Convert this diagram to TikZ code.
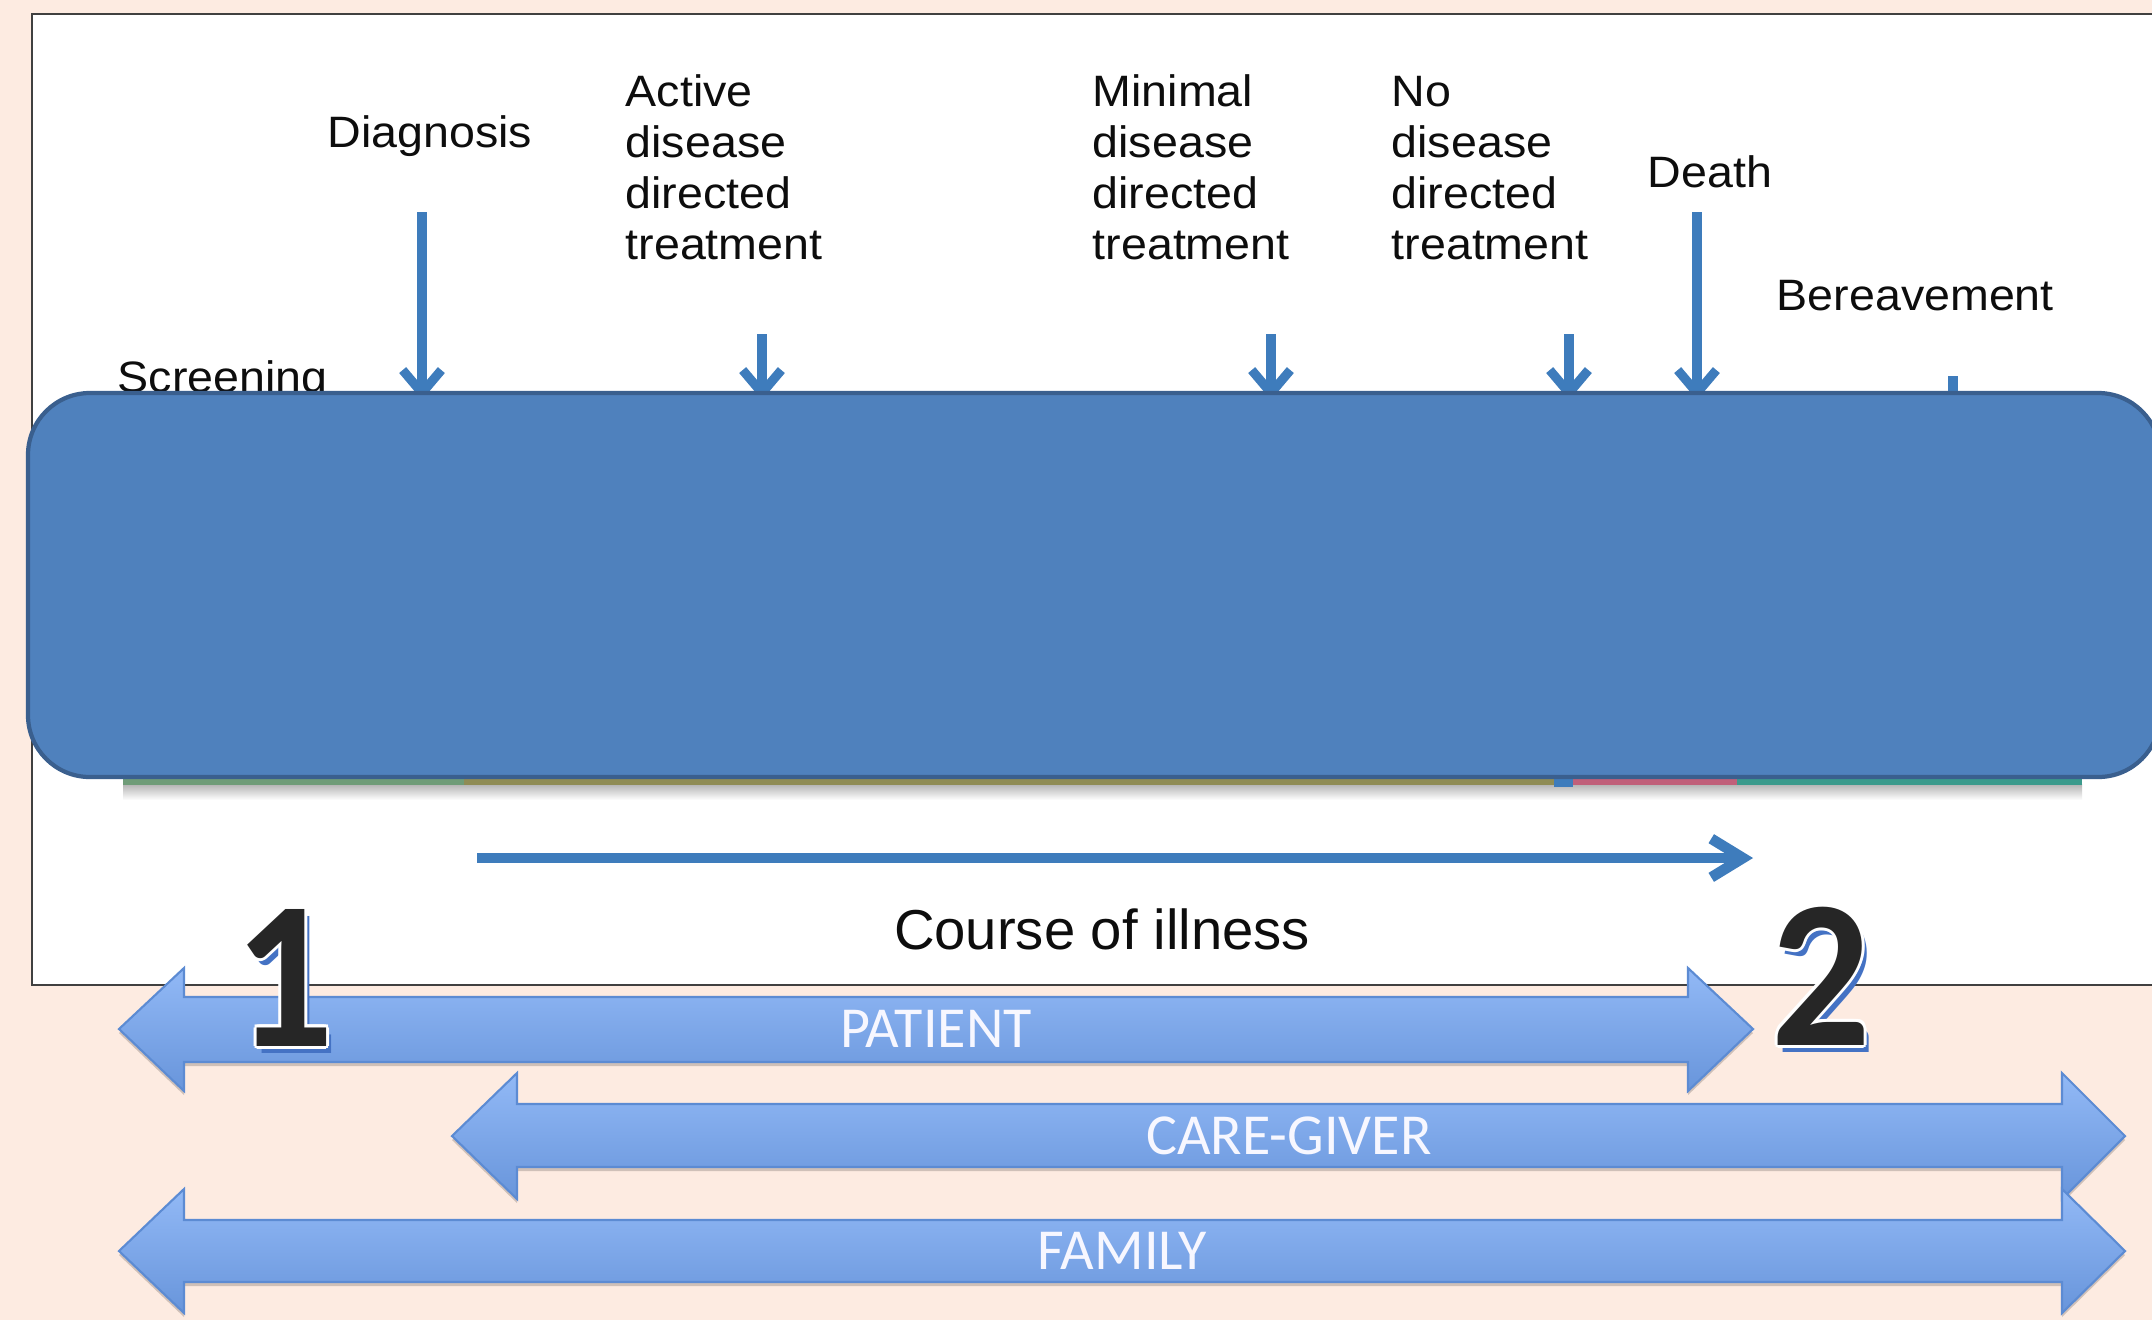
\documentclass[tikz,border=0pt]{standalone}
\usepackage{fontspec}
\setmainfont{Liberation Sans}
\newfontfamily\calfont{Carlito}
\usetikzlibrary{arrows.meta,calc}
\definecolor{bgpeach}{HTML}{FDEBE1}
\definecolor{framec}{HTML}{404040}
\definecolor{tlblue}{RGB}{62,124,188}
\definecolor{boxfill}{HTML}{4F81BD}
\definecolor{boxdraw}{HTML}{3A5F8E}
\definecolor{arrtop}{HTML}{92B9F6}
\definecolor{arrbot}{HTML}{6895DB}
\definecolor{arrline}{HTML}{5C8BD3}
\definecolor{shadblue}{HTML}{4472C4}
\definecolor{digitc}{HTML}{262626}
\definecolor{stripA}{HTML}{6F9C78}
\definecolor{stripB}{RGB}{143,140,85}
\definecolor{stripC}{RGB}{192,96,122}
\definecolor{stripD}{RGB}{59,154,140}
\tikzset{
  lbl/.style={font=\fontsize{12.5}{14}\selectfont, inner sep=0pt, anchor=base west, text=black!95},
  downarr/.style={draw=tlblue, line width=2.6pt, -{Straight Barb[length=6.5pt,width=11pt]}},
  blockarr/.style={top color=arrtop, bottom color=arrbot, draw=arrline, line width=0.6pt},
  blockshadow/.style={fill=black, opacity=0.18},
  blocktxt/.style={font=\calfont\fontsize{16.5}{16.5}\selectfont, text=white!97!blue, inner sep=0pt},
  digitstyle/.style={font=\calfont\bfseries\fontsize{60}{60}\selectfont, inner sep=0pt, anchor=base}
}
% one digit with white outline and blue drop shadow, all in one box
\newcommand\doff[4]{\rlap{\hspace{#1}\raisebox{#2}{\color{#3}#4}}}
\newcommand\outdigit[1]{\leavevmode\scalebox{0.93}[1]{%
  \doff{1.7pt}{-2pt}{shadblue}{#1}%
  \doff{0.85pt}{0pt}{white}{#1}\doff{-0.85pt}{0pt}{white}{#1}%
  \doff{0pt}{0.85pt}{white}{#1}\doff{0pt}{-0.85pt}{white}{#1}%
  \doff{0.6pt}{0.6pt}{white}{#1}\doff{-0.6pt}{0.6pt}{white}{#1}%
  \doff{0.6pt}{-0.6pt}{white}{#1}\doff{-0.6pt}{-0.6pt}{white}{#1}%
  {\color{digitc}#1}}}
\begin{document}
\begin{tikzpicture}[x=0.01cm,y=-0.01cm]
\useasboundingbox (0,0) rectangle (2152,1320);
\fill[bgpeach] (0,0) rectangle (2152,1320);
% white frame
\draw[fill=white, draw=framec, line width=0.6pt] (32,14) rectangle (2175,985);

% labels
\node[lbl] (screen) at (117,392) {\scalebox{1.06}[1]{Screening}};
\node[lbl] (diag) at (327,147) {\scalebox{1.06}[1]{Diagnosis}};
\node[lbl] (act1) at (625,106) {\scalebox{1.06}[1]{Active}};
\node[lbl] (act2) at (625,157) {\scalebox{1.06}[1]{disease}};
\node[lbl] (act3) at (625,208) {\scalebox{1.06}[1]{directed}};
\node[lbl] (act4) at (625,259) {\scalebox{1.06}[1]{treatment}};
\node[lbl] (min1) at (1092,106) {\scalebox{1.06}[1]{Minimal}};
\node[lbl] (min2) at (1092,157) {\scalebox{1.06}[1]{disease}};
\node[lbl] (min3) at (1092,208) {\scalebox{1.06}[1]{directed}};
\node[lbl] (min4) at (1092,259) {\scalebox{1.06}[1]{treatment}};
\node[lbl] (no1) at (1391,106) {\scalebox{1.06}[1]{No}};
\node[lbl] (no2) at (1391,157) {\scalebox{1.06}[1]{disease}};
\node[lbl] (no3) at (1391,208) {\scalebox{1.06}[1]{directed}};
\node[lbl] (no4) at (1391,259) {\scalebox{1.06}[1]{treatment}};
\node[lbl] (death) at (1647,187) {\scalebox{1.06}[1]{Death}};
\node[lbl] (bereav) at (1776,310) {\scalebox{1.06}[1]{Bereavement}};

% arrow coordinates
\coordinate (dgA) at (422,212); \coordinate (dgB) at (422,400);
\coordinate (acA) at (762,334); \coordinate (acB) at (762,400);
\coordinate (miA) at (1271,334); \coordinate (miB) at (1271,400);
\coordinate (noA) at (1569,334); \coordinate (noB) at (1569,400);
\coordinate (deA) at (1697,212); \coordinate (deB) at (1697,400);
\coordinate (beA) at (1953,376); \coordinate (beB) at (1953,450);
\draw[downarr] (dgA) -- (dgB);
\draw[downarr] (acA) -- (acB);
\draw[downarr] (miA) -- (miB);
\draw[downarr] (noA) -- (noB);
\draw[downarr] (deA) -- (deB);
\draw[downarr] (beA) -- (beB);

% timeline strip under the box
\shade[top color=black!30, bottom color=white] (123,784) rectangle (2082,800);
\fill[stripA] (123,778) rectangle (464,785);
\fill[stripB] (464,778) rectangle (1554,785);
\fill[tlblue] (1554,778) rectangle (1573,787);
\fill[stripC] (1573,778) rectangle (1737,785);
\fill[stripD] (1737,778) rectangle (2082,785);

% blue box
\draw[fill=boxfill, draw=boxdraw, line width=1.2pt, rounded corners=17.6pt] (28,393) rectangle (2160,777);

% course of illness
\coordinate (cS) at (477,858); \coordinate (cE) at (1753,858);
\draw[draw=tlblue, line width=3pt, -{Straight Barb[length=9pt,width=11pt]}] (cS) -- (cE);
\node[font=\fontsize{16}{16}\selectfont, inner sep=0pt, anchor=base, text=black!95] (course) at (1102,949) {Course of illness};

% block arrows
\fill[blockshadow] (119,1033) -- (184,972) -- (184,1001) -- (1688,1001) -- (1688,972) -- (1753,1033) -- (1688,1095) -- (1688,1066) -- (184,1066) -- (184,1095) -- cycle;
\path[blockarr] (119,1029) -- (184,968) -- (184,997) -- (1688,997) -- (1688,968) -- (1753,1029) -- (1688,1091) -- (1688,1062) -- (184,1062) -- (184,1091) -- cycle;
\node[blocktxt] (patient) at (936,1029) {PATIENT};

\fill[blockshadow] (452,1140) -- (517,1077) -- (517,1108) -- (2062,1108) -- (2062,1077) -- (2125,1140) -- (2062,1203) -- (2062,1171) -- (517,1171) -- (517,1203) -- cycle;
\path[blockarr] (452,1136) -- (517,1073) -- (517,1104) -- (2062,1104) -- (2062,1073) -- (2125,1136) -- (2062,1199) -- (2062,1167) -- (517,1167) -- (517,1199) -- cycle;
\node[blocktxt] (care) at (1289,1136) {CARE-GIVER};

\fill[blockshadow] (119,1255) -- (184,1193) -- (184,1224) -- (2062,1224) -- (2062,1193) -- (2125,1255) -- (2062,1317) -- (2062,1286) -- (184,1286) -- (184,1317) -- cycle;
\path[blockarr] (119,1251) -- (184,1189) -- (184,1220) -- (2062,1220) -- (2062,1189) -- (2125,1251) -- (2062,1313) -- (2062,1282) -- (184,1282) -- (184,1313) -- cycle;
\node[blocktxt] (family) at (1122,1251) {FAMILY};

% big digits
\node[digitstyle] (one) at (284,1046) {\outdigit{1}};
\node[digitstyle] (two) at (1821,1045) {\outdigit{2}};
\end{tikzpicture}
\end{document}
